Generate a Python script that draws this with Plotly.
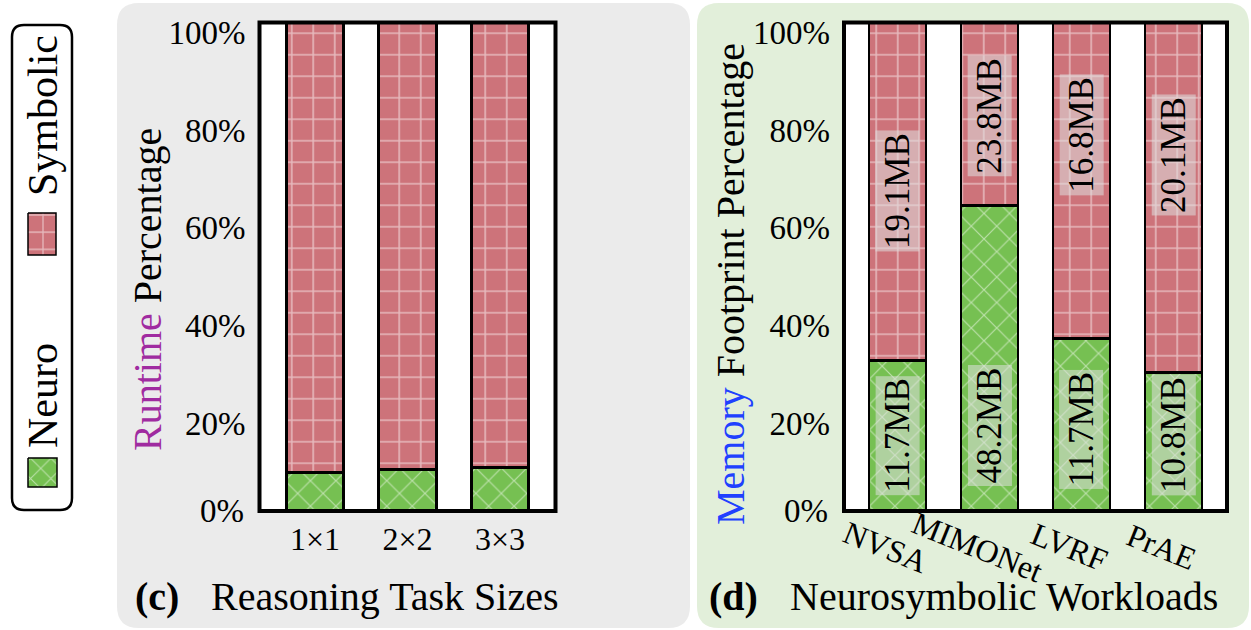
import plotly.graph_objects as go

# ---------------- data ----------------
task_sizes = ["1×1", "2×2", "3×3"]
runtime_neuro = [7.9, 8.4, 8.9]
runtime_symbolic = [92.1, 91.6, 91.1]

workloads = ["NVSA", "MIMONet", "LVRF", "PrAE"]
memory_neuro = [30.8, 62.5, 35.3, 28.3]
memory_symbolic = [69.2, 37.5, 64.7, 71.7]
neuro_mb = [11.7, 48.2, 11.7, 10.8]
symbolic_mb = [19.1, 23.8, 16.8, 20.1]

pct_ticks = [0, 20, 40, 60, 80, 100]

# heights (axis %) at which the MB labels sit inside the bars
neuro_label_at = [15.5, 17.6, 16.6, 15.5]
symbolic_label_at = [65.6, 81.0, 76.9, 72.8]

# ---------------- style ----------------
W, H = 1251, 630
SERIF = "Liberation Serif"
RED = "#cd737a"
GREEN = "#76c052"
GREY_BG = "#ebebeb"
GREEN_BG = "#e2efda"
PURPLE = "#a02ba0"
BLUE = "#2040ff"


def px(x):
    return x / W


def py(y):
    return 1 - y / H


def rounded_rect(x0, y0, x1, y1, r):
    """SVG path (paper coords) of a rounded rectangle given in pixels."""
    pts = [
        ("M", [(x0 + r, y0)]),
        ("L", [(x1 - r, y0)]),
        ("Q", [(x1, y0), (x1, y0 + r)]),
        ("L", [(x1, y1 - r)]),
        ("Q", [(x1, y1), (x1 - r, y1)]),
        ("L", [(x0 + r, y1)]),
        ("Q", [(x0, y1), (x0, y1 - r)]),
        ("L", [(x0, y0 + r)]),
        ("Q", [(x0, y0), (x0 + r, y0)]),
    ]
    out = []
    for cmd, coords in pts:
        out.append(cmd + " ".join(f"{px(a):.5f},{py(b):.5f}" for a, b in coords))
    return " ".join(out) + " Z"


neuro_pattern = dict(shape="x", fgcolor="white", size=18, solidity=0.13, fillmode="overlay")
symb_pattern = dict(shape="+", fgcolor="white", size=21.5, solidity=0.14, fillmode="overlay")
bar_line = dict(color="black", width=2.5)

fig = go.Figure()

# ---- (c) runtime split ----
fig.add_trace(go.Bar(x=task_sizes, y=runtime_neuro, name="Neuro", width=0.62,
                     marker=dict(color=GREEN, pattern=neuro_pattern, line=bar_line),
                     xaxis="x", yaxis="y", showlegend=False))
fig.add_trace(go.Bar(x=task_sizes, y=runtime_symbolic, name="Symbolic", width=0.62,
                     marker=dict(color=RED, pattern=symb_pattern, line=bar_line),
                     xaxis="x", yaxis="y", showlegend=False))

# ---- (d) memory footprint split ----
fig.add_trace(go.Bar(x=workloads, y=memory_neuro, name="Neuro", width=0.62,
                     marker=dict(color=GREEN, pattern=neuro_pattern, line=bar_line),
                     xaxis="x2", yaxis="y2", showlegend=False))
fig.add_trace(go.Bar(x=workloads, y=memory_symbolic, name="Symbolic", width=0.62,
                     marker=dict(color=RED, pattern=symb_pattern, line=bar_line),
                     xaxis="x2", yaxis="y2", showlegend=False))

# ---- rotated legend on the left (pixel-space helper axes) ----
legend_items = [("Neuro", GREEN, neuro_pattern, (28, 458, 57, 487), 396),
                ("Symbolic", RED, symb_pattern, (28, 213, 56, 255), 116)]
for label, col, pat, (sx0, sy0, sx1, sy1), ty in legend_items:
    fig.add_trace(go.Scatter(
        x=[sx0, sx1, sx1, sx0, sx0], y=[sy0, sy0, sy1, sy1, sy0],
        mode="lines", fill="toself", fillcolor=col,
        fillpattern=dict(shape=pat["shape"], fgcolor="white", bgcolor=col,
                         size=pat["size"] * 0.8, solidity=0.14, fillmode="overlay"),
        line=dict(color="black", width=1.5),
        xaxis="x3", yaxis="y5", showlegend=False, hoverinfo="skip"))

c_x = [259.5, 555.5]
d_x = [844, 1227]
plot_y = [22.5, 511]

axis_common = dict(showgrid=False, zeroline=False, showline=False, ticks="",
                   fixedrange=True, automargin=False)
ytick_font = dict(family=SERIF, size=33, color="black")
upper_ticks = pct_ticks[1:]

fig.update_layout(
    width=W, height=H, autosize=False,
    margin=dict(l=0, r=0, t=0, b=0, pad=0),
    paper_bgcolor="white", plot_bgcolor="rgba(0,0,0,0)",
    barmode="stack", bargap=0,
    font=dict(family=SERIF, color="black"),
    showlegend=False,
    xaxis=dict(domain=[px(c_x[0]), px(c_x[1])], range=[-0.6, 2.6], anchor="y",
               tickfont=dict(family=SERIF, size=32), ticklabelstandoff=6, **axis_common),
    yaxis=dict(domain=[py(plot_y[1]), py(plot_y[0])], range=[0, 100], anchor="x",
               tickvals=upper_ticks, ticktext=[f"{v}%" for v in upper_ticks],
               ticklabelshift=10, ticklabelstandoff=13, tickfont=ytick_font, **axis_common),
    xaxis2=dict(domain=[px(d_x[0]), px(d_x[1])], range=[-0.58, 3.58], anchor="y2",
                showticklabels=False, **axis_common),
    yaxis2=dict(domain=[py(plot_y[1]), py(plot_y[0])], range=[0, 100], anchor="x2",
                tickvals=upper_ticks, ticktext=[f"{v}%" for v in upper_ticks],
                ticklabelshift=10, ticklabelstandoff=13, tickfont=ytick_font, **axis_common),
    xaxis3=dict(domain=[0, px(112)], range=[0, 112], visible=False, fixedrange=True,
                automargin=False),
    yaxis5=dict(domain=[0, 1], range=[H, 0], visible=False, fixedrange=True, anchor="x3",
                automargin=False),
)

shapes = [
    # panel backgrounds
    dict(type="path", path=rounded_rect(117, 3, 690, 628, 22), xref="paper", yref="paper",
         fillcolor=GREY_BG, line=dict(width=0), layer="below"),
    dict(type="path", path=rounded_rect(697, 3, 1249, 628, 22), xref="paper", yref="paper",
         fillcolor=GREEN_BG, line=dict(width=0), layer="below"),
    # white plotting areas
    dict(type="rect", xref="paper", yref="paper", x0=px(c_x[0]), x1=px(c_x[1]),
         y0=py(plot_y[1]), y1=py(plot_y[0]), fillcolor="white", line=dict(width=0), layer="below"),
    dict(type="rect", xref="paper", yref="paper", x0=px(d_x[0]), x1=px(d_x[1]),
         y0=py(plot_y[1]), y1=py(plot_y[0]), fillcolor="white", line=dict(width=0), layer="below"),
    # legend box
    dict(type="path", path=rounded_rect(12, 25, 72, 510, 12), xref="paper", yref="paper",
         fillcolor="rgba(0,0,0,0)", line=dict(color="black", width=2.5), layer="above"),
    # black frames
    dict(type="rect", xref="x domain", yref="y domain", x0=0, x1=1, y0=0, y1=1,
         line=dict(color="black", width=4), layer="above"),
    dict(type="rect", xref="x2 domain", yref="y2 domain", x0=0, x1=1, y0=0, y1=1,
         line=dict(color="black", width=4), layer="above"),
]

annotations = []
# the 0% label sits level with the baseline of each panel
for yref, left in [("y", c_x[0]), ("y2", d_x[0])]:
    annotations.append(dict(text=f"{pct_ticks[0]}%", x=px(left - 14), y=pct_ticks[0],
                            xref="paper", yref=yref, xanchor="right", yanchor="middle",
                            showarrow=False, font=ytick_font))

# legend labels
for label, col, pat, box, ty in legend_items:
    annotations.append(dict(text=label, x=43, y=ty, xref="x3", yref="y5", showarrow=False,
                            xanchor="center", yanchor="middle",
                            textangle=-90, font=dict(family=SERIF, size=42)))

# axis titles
annotations.append(dict(text=f"<span style='color:{PURPLE}'>Runtime</span> Percentage",
                        x=px(148), y=py(290), xref="paper", yref="paper", showarrow=False,
                        xanchor="center", yanchor="middle",
                        textangle=-90, font=dict(family=SERIF, size=40)))
annotations.append(dict(text=f"<span style='color:{BLUE}'>Memory</span> Footprint Percentage",
                        x=px(731), y=py(284), xref="paper", yref="paper", showarrow=False,
                        xanchor="center", yanchor="middle",
                        textangle=-90, font=dict(family=SERIF, size=40)))

# panel captions
for tag, cx, caption, lx in [("(c)", 157, "Reasoning Task Sizes", 209),
                             ("(d)", 733, "Neurosymbolic Workloads", 788)]:
    annotations.append(dict(text=f"<b>{tag}</b>", x=px(cx), y=py(596), xref="paper", yref="paper",
                            xanchor="center", yanchor="middle",
                            showarrow=False, font=dict(family=SERIF, size=40)))
    annotations.append(dict(text=caption, x=px(lx), y=py(596), xref="paper", yref="paper",
                            xanchor="left", yanchor="middle",
                            showarrow=False, font=dict(family=SERIF, size=40)))

# slanted workload names under (d)
for name in workloads:
    annotations.append(dict(text=name, x=name, y=0, xref="x2", yref="y2", yshift=-36, xshift=-12,
                            xanchor="center", yanchor="middle",
                            showarrow=False, textangle=22, font=dict(family=SERIF, size=32)))

# MB labels inside the memory bars
label_box = "rgba(222,222,222,0.55)"
for name, mb, at in zip(workloads, neuro_mb, neuro_label_at):
    annotations.append(dict(text=f"{mb}MB", x=name, y=at, xref="x2", yref="y2", showarrow=False,
                            textangle=-90, bgcolor=label_box, borderpad=2,
                            font=dict(family=SERIF, size=35)))
for name, mb, at in zip(workloads, symbolic_mb, symbolic_label_at):
    annotations.append(dict(text=f"{mb}MB", x=name, y=at, xref="x2", yref="y2", showarrow=False,
                            textangle=-90, bgcolor=label_box, borderpad=2,
                            font=dict(family=SERIF, size=35)))

fig.update_layout(shapes=shapes, annotations=annotations)

fig.write_html("out.html")
